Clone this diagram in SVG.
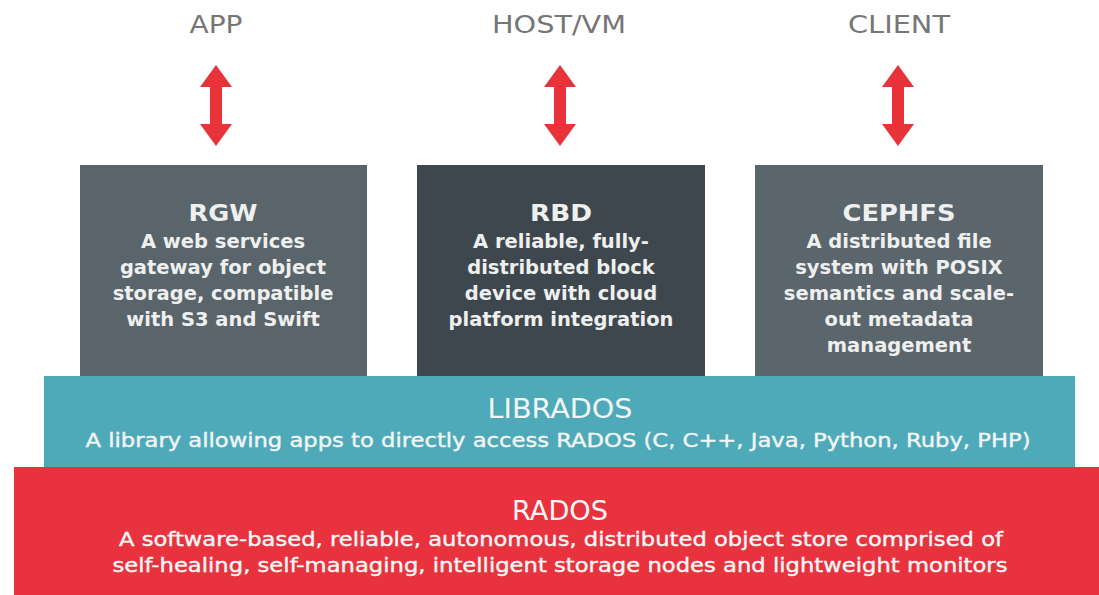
<svg xmlns="http://www.w3.org/2000/svg" width="1099" height="595" viewBox="0 0 1099 595">
<style>
.top{font-family:"DejaVu Sans",sans-serif;font-size:24px;fill:#767676;text-anchor:middle}
.t{font-family:"DejaVu Sans",sans-serif;font-size:23px;font-weight:bold;fill:#eef0f0;text-anchor:middle}
.d{font-family:"DejaVu Sans",sans-serif;font-size:19.5px;font-weight:bold;fill:#eef0f0;text-anchor:middle}
.lt{font-family:"DejaVu Sans",sans-serif;font-size:26px;fill:#f2f6f7;text-anchor:middle}
.ld{font-family:"DejaVu Sans",sans-serif;font-size:20px;fill:#f2f6f7;stroke:#f2f6f7;stroke-width:0.4;text-anchor:middle}
.arrow{fill:#e8333a}
</style>
<defs>
<path id="dbl" d="M0,0 L16,22 L6,22 L6,59 L16,59 L0,81 L-16,59 L-6,59 L-6,22 L-16,22 Z"/>
</defs>
<rect width="1099" height="595" fill="#ffffff"/>
<g id="app"><text class="top" x="216" y="33" textLength="53" lengthAdjust="spacingAndGlyphs">APP</text></g>
<g id="hostvm"><text class="top" x="559" y="33" textLength="134" lengthAdjust="spacingAndGlyphs">HOST/VM</text></g>
<g id="client"><text class="top" x="899" y="33" textLength="102" lengthAdjust="spacingAndGlyphs">CLIENT</text></g>
<g id="connectors">
<use href="#dbl" class="arrow" x="216" y="65"/>
<use href="#dbl" class="arrow" x="560" y="65"/>
<use href="#dbl" class="arrow" x="898" y="65"/>
</g>
<g id="rgw">
<rect x="80" y="165" width="287" height="212" fill="#5a646b"/>
<text class="t" x="223" y="221" textLength="69" lengthAdjust="spacingAndGlyphs">RGW</text>
<text class="d" x="223" y="248">A web services</text>
<text class="d" x="223" y="274">gateway for object</text>
<text class="d" x="223" y="300">storage, compatible</text>
<text class="d" x="223" y="326">with S3 and Swift</text>
</g>
<g id="rbd">
<rect x="417" y="165" width="288" height="212" fill="#3f474e"/>
<text class="t" x="561" y="221" textLength="62" lengthAdjust="spacingAndGlyphs">RBD</text>
<text class="d" x="561" y="248">A reliable, fully-</text>
<text class="d" x="561" y="274">distributed block</text>
<text class="d" x="561" y="300">device with cloud</text>
<text class="d" x="561" y="326">platform integration</text>
</g>
<g id="cephfs">
<rect x="755" y="165" width="288" height="212" fill="#5b656c"/>
<text class="t" x="899" y="221" textLength="113" lengthAdjust="spacingAndGlyphs">CEPHFS</text>
<text class="d" x="899" y="248">A distributed file</text>
<text class="d" x="899" y="274">system with POSIX</text>
<text class="d" x="899" y="300">semantics and scale-</text>
<text class="d" x="899" y="326">out metadata</text>
<text class="d" x="899" y="352">management</text>
</g>
<g id="librados">
<rect x="44" y="376" width="1031" height="92" fill="#4eaab9"/>
<text class="lt" x="560" y="418" textLength="145" lengthAdjust="spacingAndGlyphs">LIBRADOS</text>
<text class="ld" x="558" y="447" textLength="945" lengthAdjust="spacingAndGlyphs">A library allowing apps to directly access RADOS (C, C++, Java, Python, Ruby, PHP)</text>
</g>
<g id="rados">
<rect x="14" y="467" width="1085" height="128" fill="#e8333e"/>
<text class="lt" x="560" y="520" textLength="96" lengthAdjust="spacingAndGlyphs">RADOS</text>
<text class="ld" x="561" y="546" textLength="884" lengthAdjust="spacingAndGlyphs">A software-based, reliable, autonomous, distributed object store comprised of</text>
<text class="ld" x="560" y="572" textLength="895" lengthAdjust="spacingAndGlyphs">self-healing, self-managing, intelligent storage nodes and lightweight monitors</text>
</g>
</svg>
